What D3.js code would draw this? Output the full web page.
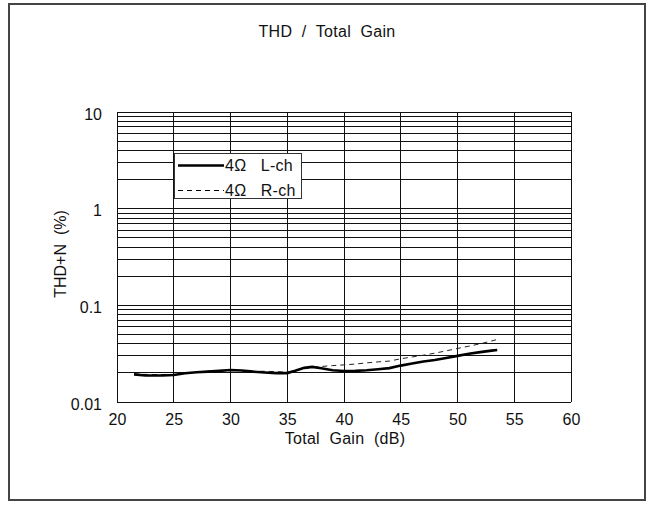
<!DOCTYPE html>
<html>
<head>
<meta charset="utf-8">
<script src="https://cdn.jsdelivr.net/npm/d3@7"></script>
<style>
  html, body { margin: 0; padding: 0; background: #fff; }
  svg text { font-family: "Liberation Sans", Arial, sans-serif; fill: #111; }
</style>
</head>
<body>
<svg id="chart" width="652" height="506"></svg>
<script>
// Total gain (dB) and THD+N (%) for the left channel, 4 ohm load
const gainL = [21.5, 22.5, 24, 25, 26, 27, 28, 29, 30, 31, 32, 33, 34, 35, 35.7, 36.5, 37.2, 38, 39, 40, 41, 42, 43, 44, 45, 46, 47, 48, 49, 50, 51, 52, 53, 53.5];
const thdL  = [0.0193, 0.0188, 0.0188, 0.0190, 0.0198, 0.0203, 0.0206, 0.0210, 0.0214, 0.0212, 0.0206, 0.0202, 0.0199, 0.0199, 0.0210, 0.0226, 0.0231, 0.0223, 0.0213, 0.0209, 0.0210, 0.0213, 0.0218, 0.0224, 0.0238, 0.0250, 0.0262, 0.0272, 0.0285, 0.0300, 0.0316, 0.0328, 0.0340, 0.0345];

// Right channel, 4 ohm load
const gainR = [21.5, 23, 25, 27, 29, 30, 31, 32, 33, 34, 35, 36, 37, 38, 39, 40, 41, 42, 43, 44, 45, 46, 47, 48, 49, 50, 51, 52, 53, 53.7];
const thdR  = [0.0195, 0.0192, 0.0193, 0.0204, 0.0212, 0.0212, 0.0210, 0.0207, 0.0208, 0.0206, 0.0204, 0.0215, 0.0225, 0.0233, 0.0238, 0.0242, 0.0247, 0.0254, 0.0260, 0.0265, 0.0280, 0.0292, 0.0305, 0.0320, 0.0338, 0.0358, 0.0378, 0.0400, 0.0428, 0.0450];

const xTicks = [20, 25, 30, 35, 40, 45, 50, 55, 60];
const yTicks = [0.01, 0.1, 1, 10];
const yTickLabels = ["0.01", "0.1", "1", "10"];
const seriesNames = ["4\u03A9   L-ch", "4\u03A9   R-ch"];

const svg = d3.select("#chart");
const plot = { left: 117, right: 571, top: 112, bottom: 402 };

const x = d3.scaleLinear().domain([20, 60]).range([plot.left, plot.right]);
const y = d3.scaleLog().domain([0.01, 10]).range([plot.bottom, plot.top]);

// outer frame
svg.append("rect")
  .attr("x", 9).attr("y", 4).attr("width", 636).attr("height", 496)
  .attr("fill", "none").attr("stroke", "#444").attr("stroke-width", 2);

// title
svg.append("text")
  .attr("x", 327).attr("y", 37)
  .attr("text-anchor", "middle")
  .style("font-size", "16px")
  .style("letter-spacing", "0.3px")
  .style("white-space", "pre")
  .text("THD  /  Total  Gain");

// grid: minor log lines 1..9 per decade, plus top
const yGrid = [];
[0.01, 0.1, 1].forEach(d => { for (let k = 1; k <= 9; k++) yGrid.push(d * k); });
yGrid.push(10);

const grid = svg.append("g").attr("shape-rendering", "crispEdges");
grid.selectAll("line.h").data(yGrid).join("line")
  .attr("class", "h")
  .attr("x1", plot.left).attr("x2", plot.right)
  .attr("y1", d => y(d)).attr("y2", d => y(d))
  .attr("stroke", "#111").attr("stroke-width", 1);
grid.selectAll("line.v").data(xTicks).join("line")
  .attr("class", "v")
  .attr("x1", d => x(d)).attr("x2", d => x(d))
  .attr("y1", plot.top).attr("y2", plot.bottom)
  .attr("stroke", "#111").attr("stroke-width", 1);

// axes (labels only; grid draws the lines)
const xAxis = svg.append("g")
  .attr("transform", `translate(0,${plot.bottom})`)
  .call(d3.axisBottom(x).tickValues(xTicks).tickSize(0).tickPadding(12).tickFormat(d3.format("d")));
xAxis.select(".domain").remove();
xAxis.selectAll("text").style("font-size", "16px").attr("fill", "#111");

const yAxis = svg.append("g")
  .attr("transform", `translate(${plot.left},0)`)
  .call(d3.axisLeft(y).tickValues(yTicks).tickSize(0).tickPadding(15)
    .tickFormat((d, i) => yTickLabels[i]));
yAxis.select(".domain").remove();
yAxis.selectAll("text").style("font-size", "16px").attr("fill", "#111").attr("dy", "0.45em");

// axis titles
svg.append("text")
  .attr("x", (plot.left + plot.right) / 2 + 1).attr("y", 444)
  .attr("text-anchor", "middle")
  .style("font-size", "16px")
  .style("letter-spacing", "0.3px")
  .style("white-space", "pre")
  .text("Total  Gain  (dB)");

svg.append("text")
  .attr("transform", `translate(66,254) rotate(-90)`)
  .attr("text-anchor", "middle")
  .style("font-size", "16px")
  .style("white-space", "pre")
  .text("THD+N  (%)");

// data lines
const line = d3.line().x(d => x(d[0])).y(d => y(d[1]));
const dataL = gainL.map((g, i) => [g, thdL[i]]);
const dataR = gainR.map((g, i) => [g, thdR[i]]);

svg.append("path").datum(dataR)
  .attr("d", line)
  .attr("fill", "none").attr("stroke", "#222").attr("stroke-width", 1)
  .attr("stroke-dasharray", "5,4");

svg.append("path").datum(dataL)
  .attr("d", line)
  .attr("fill", "none").attr("stroke", "#000").attr("stroke-width", 2.6);

// legend
const lg = svg.append("g").attr("transform", "translate(174,153)");
lg.append("rect")
  .attr("x", 0).attr("y", 0).attr("width", 127).attr("height", 45)
  .attr("fill", "#fff").attr("stroke", "#333").attr("stroke-width", 1)
  .attr("shape-rendering", "crispEdges");
const styles = [
  { w: 2.6, dash: null },
  { w: 1, dash: "5,4" }
];
seriesNames.forEach((name, i) => {
  const cy = 12.5 + i * 25;
  lg.append("line")
    .attr("x1", 4).attr("x2", 50).attr("y1", cy).attr("y2", cy)
    .attr("stroke", "#000").attr("stroke-width", styles[i].w)
    .attr("stroke-dasharray", styles[i].dash);
  lg.append("text")
    .attr("x", 51).attr("y", cy).attr("dy", "0.36em")
    .style("font-size", "16px")
    .style("letter-spacing", "0.3px")
    .style("white-space", "pre")
    .text(name);
});
</script>
</body>
</html>
